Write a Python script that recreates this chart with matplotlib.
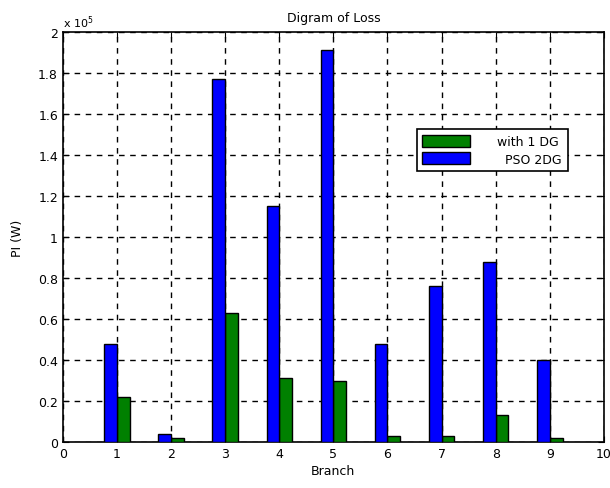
import numpy as np
import matplotlib
matplotlib.use('Agg')
import matplotlib.pyplot as plt

branches = [1, 2, 3, 4, 5, 6, 7, 8, 9]
pso_2dg = [0.48, 0.04, 1.77, 1.15, 1.91, 0.48, 0.76, 0.88, 0.40]   # x 1e5
with_1dg = [0.22, 0.02, 0.63, 0.31, 0.30, 0.03, 0.03, 0.13, 0.02]  # x 1e5

pso_2dg = np.array(pso_2dg) * 1e5
with_1dg = np.array(with_1dg) * 1e5
x = np.array(branches)

fig = plt.figure(figsize=(6.1, 4.89), dpi=100)
ax = fig.add_axes([0.103, 0.094, 0.887, 0.8385])

w = 0.235
off = 0.118
b_green = ax.bar(x + off, with_1dg, w, color='#008000', edgecolor='black', linewidth=1, zorder=3)
b_blue = ax.bar(x - off, pso_2dg, w, color='#0000ff', edgecolor='black', linewidth=1, zorder=3)

ax.set_xlim(0, 10)
ax.set_ylim(0, 2e5)
ax.set_xticks(range(0, 11))
ax.set_yticks(np.arange(0, 2.01e5, 0.2e5))
ax.set_yticklabels(['0', '0.2', '0.4', '0.6', '0.8', '1', '1.2', '1.4', '1.6', '1.8', '2'])
ax.tick_params(direction='in', top=True, right=True, labelsize=9, length=4)
ax.set_axisbelow(True)
ax.grid(True, linestyle=(0, (4, 4)), color='black', linewidth=1)
for s in ax.spines.values():
    s.set_linewidth(1.2)

ax.text(0.0, 1.005, r'x 10$^5$', transform=ax.transAxes, fontsize=8, va='bottom', ha='left')
ax.set_title('Digram of Loss', fontsize=9, pad=8)
ax.set_xlabel('Branch', fontsize=9, labelpad=3)
ax.set_ylabel('PI (W)', fontsize=9, labelpad=10)

leg = ax.legend([b_green, b_blue], ['with 1 DG', '  PSO 2DG'], loc='upper left',
                bbox_to_anchor=(0.654, 0.763), fontsize=9, fancybox=False, framealpha=1,
                edgecolor='black', borderaxespad=0, handlelength=3.8, handleheight=1.1,
                handletextpad=2.2, borderpad=0.45, labelspacing=0.35)
leg.get_frame().set_linewidth(1.2)
leg.set_zorder(5)

fig.savefig('out.png', dpi=100)
